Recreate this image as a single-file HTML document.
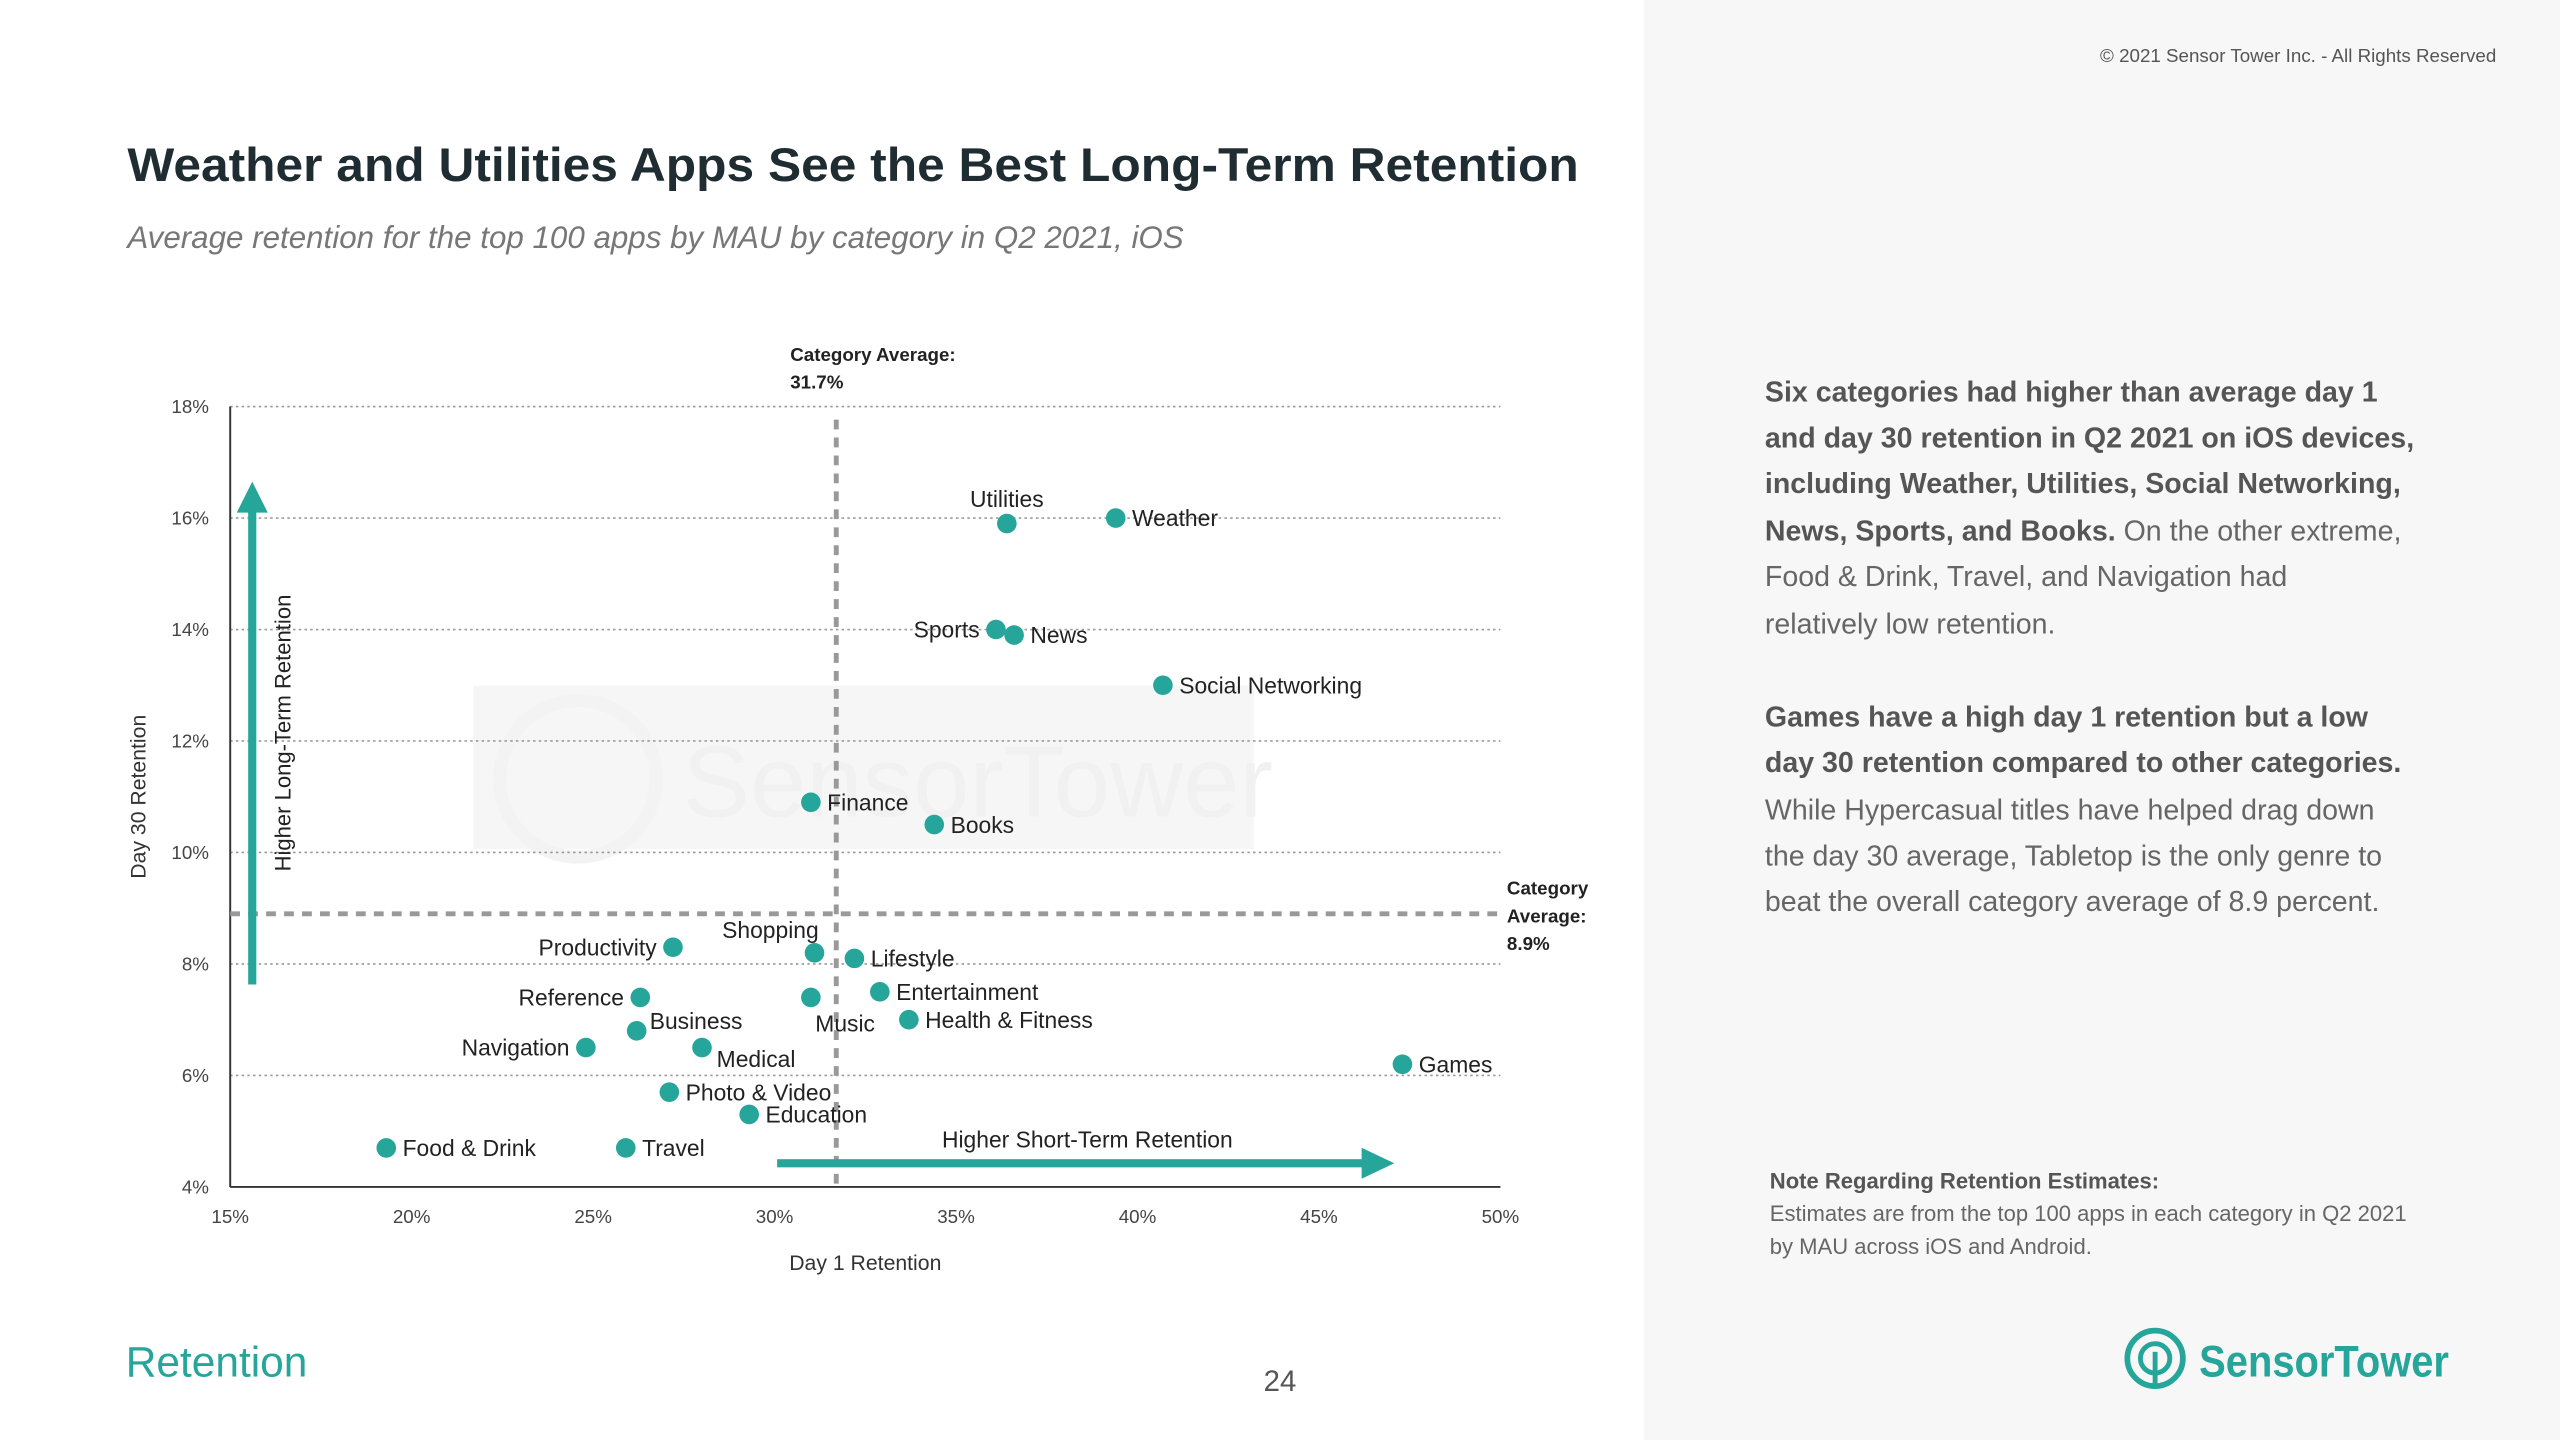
<!DOCTYPE html>
<html><head><meta charset="utf-8">
<style>
html,body{margin:0;padding:0;background:#fff;}
svg{display:block;font-family:"Liberation Sans",sans-serif;}
</style></head>
<body>
<svg id="page" width="2560" height="1440" viewBox="0 0 1568 882" xmlns="http://www.w3.org/2000/svg">
  <rect x="1007" y="0" width="561" height="882" fill="#f7f7f7"/>
  <text x="1529" y="38" text-anchor="end" font-size="11.5" fill="#555">© 2021 Sensor Tower Inc. - All Rights Reserved</text>
  <text x="78" y="111" font-size="29" font-weight="bold" fill="#1f2d33" textLength="889" lengthAdjust="spacingAndGlyphs">Weather and Utilities Apps See the Best Long-Term Retention</text>
  <text x="78" y="152" font-size="19" font-style="italic" fill="#777" textLength="647" lengthAdjust="spacingAndGlyphs">Average retention for the top 100 apps by MAU by category in Q2 2021, iOS</text>

  <g opacity="0.07">
    <rect x="290" y="420" width="478" height="100" fill="#888"/>
    <circle cx="354" cy="477" r="48" fill="none" stroke="#666" stroke-width="8"/>
    <text x="418" y="500" font-size="62" fill="#444">SensorTower</text>
  </g>

  <g id="chart"></g>

  <g font-size="17.5" fill="#666">
    <text x="1081" y="246"><tspan font-weight="bold" fill="#555">Six categories had higher than average day 1</tspan></text>
    <text x="1081" y="274"><tspan font-weight="bold" fill="#555">and day 30 retention in Q2 2021 on iOS devices,</tspan></text>
    <text x="1081" y="302"><tspan font-weight="bold" fill="#555">including Weather, Utilities, Social Networking,</tspan></text>
    <text x="1081" y="331"><tspan font-weight="bold" fill="#555">News, Sports, and Books.</tspan> On the other extreme,</text>
    <text x="1081" y="359">Food &amp; Drink, Travel, and Navigation had</text>
    <text x="1081" y="388">relatively low retention.</text>
    <text x="1081" y="445"><tspan font-weight="bold" fill="#555">Games have a high day 1 retention but a low</tspan></text>
    <text x="1081" y="473"><tspan font-weight="bold" fill="#555">day 30 retention compared to other categories.</tspan></text>
    <text x="1081" y="502">While Hypercasual titles have helped drag down</text>
    <text x="1081" y="530">the day 30 average, Tabletop is the only genre to</text>
    <text x="1081" y="558">beat the overall category average of 8.9 percent.</text>
  </g>
  <text x="1084" y="728" font-size="13.5" font-weight="bold" fill="#555">Note Regarding Retention Estimates:</text>
  <text x="1084" y="748" font-size="13.5" fill="#666">Estimates are from the top 100 apps in each category in Q2 2021</text>
  <text x="1084" y="768" font-size="13.5" fill="#666">by MAU across iOS and Android.</text>

  <text x="77" y="843" font-size="26" fill="#26a69a">Retention</text>
  <text x="784" y="852" text-anchor="middle" font-size="18" fill="#555">24</text>
  <g>
    <circle cx="1320" cy="832" r="17" fill="none" stroke="#26a69a" stroke-width="3.5"/>
    <circle cx="1320" cy="832" r="9" fill="none" stroke="#26a69a" stroke-width="3"/>
    <rect x="1318.5" y="828" width="3" height="22" fill="#26a69a"/>
    <text x="1347" y="843" font-size="27" font-weight="bold" fill="#26a69a" textLength="153" lengthAdjust="spacingAndGlyphs">SensorTower</text>
  </g>
</svg>
<script>
const categories = ["Utilities","Weather","Sports","News","Social Networking","Finance","Books","Productivity","Shopping","Lifestyle","Reference","Music","Entertainment","Health & Fitness","Business","Navigation","Medical","Games","Photo & Video","Education","Food & Drink","Travel"];
const day1Values = [36.4,39.4,36.1,36.6,40.7,31.0,34.4,27.2,31.1,32.2,26.3,31.0,32.9,33.7,26.2,24.8,28.0,47.3,27.1,29.3,19.3,25.9];
const day30Values = [15.9,16.0,14.0,13.9,13.0,10.9,10.5,8.3,8.2,8.1,7.4,7.4,7.5,7.0,6.8,6.5,6.5,6.2,5.7,5.3,4.7,4.7];
const xTicks = [15,20,25,30,35,40,45,50];
const yTicks = [4,6,8,10,12,14,16,18];
const avgDay1 = 31.7;
const avgDay30 = 8.9;
// label placement: side code per category (layout, not data)
const labelSide = ["top","right","left","right","right","right","right","left","topleft","right","left","bottom","right","right","topright","left","bottomright","right","right","right","right","right"];

const NS="http://www.w3.org/2000/svg";
const g=document.getElementById('chart');
const X0=141,X1=919,Y0=727,Y1=249;
function xs(v){return X0+(v-15)/(50-15)*(X1-X0);}
function ys(v){return Y0-(v-4)/(18-4)*(Y0-Y1);}
function el(tag,attrs,text){const e=document.createElementNS(NS,tag);for(const k in attrs)e.setAttribute(k,attrs[k]);if(text!==undefined)e.textContent=text;g.appendChild(e);return e;}

yTicks.forEach(t=>{
  if(t>4){const l=el('line',{x1:X0,x2:X1,y1:ys(t),y2:ys(t),stroke:'#999','stroke-width':1,'stroke-dasharray':'1.5 2'});
  
  }
  const tx=el('text',{x:128,y:ys(t)+4,'text-anchor':'end','font-size':11.5,fill:'#444'},t+'%');
  
  
});
xTicks.forEach(t=>{
  const tx=el('text',{x:xs(t),y:749,'text-anchor':'middle','font-size':11.5,fill:'#444'},t+'%');
  
  
});
let ax=el('line',{x1:X0,x2:X0,y1:Y1,y2:Y0,stroke:'#333','stroke-width':1.2});


ax=el('line',{x1:X0,x2:X1,y1:Y0,y2:Y0,stroke:'#333','stroke-width':1.2});



let t=el('text',{x:530,y:778,'text-anchor':'middle','font-size':13,fill:'#333'},'Day 1 Retention');


t=el('text',{x:0,y:0,'text-anchor':'middle','font-size':13,fill:'#333',transform:'translate(89,488) rotate(-90)'},'Day 30 Retention');



// average lines
let av=el('line',{x1:xs(avgDay1),x2:xs(avgDay1),y1:Y1+8,y2:Y0,stroke:'#999','stroke-width':3,'stroke-dasharray':'6 5'});


av=el('line',{x1:X0,x2:X1,y1:ys(avgDay30),y2:ys(avgDay30),stroke:'#999','stroke-width':3,'stroke-dasharray':'6 5'});


t=el('text',{x:484,y:221,'font-size':11.5,'font-weight':'bold',fill:'#222'},'Category Average:');


t=el('text',{x:484,y:238,'font-size':11.5,'font-weight':'bold',fill:'#222'},avgDay1+'%');


[['Category',548],['Average:',565],[avgDay30+'%',582]].forEach((p,i)=>{
  const tt=el('text',{x:923,y:p[1],'font-size':11.5,'font-weight':'bold',fill:'#222'},p[0]);
  
  
});

// arrows
let a=el('rect',{x:152,y:310,width:5,height:293,fill:'#26a69a'});


a=el('polygon',{points:'145,314 164,314 154.5,295',fill:'#26a69a'});


t=el('text',{x:0,y:0,'text-anchor':'middle','font-size':13.5,fill:'#222',transform:'translate(178,449) rotate(-90)'},'Higher Long-Term Retention');


a=el('rect',{x:476,y:710,width:360,height:5,fill:'#26a69a'});


a=el('polygon',{points:'834,703 834,722 854,712.5',fill:'#26a69a'});


t=el('text',{x:666,y:703,'text-anchor':'middle','font-size':14,fill:'#222'},'Higher Short-Term Retention');



categories.forEach((c,i)=>{
  const cx=xs(day1Values[i]),cy=ys(day30Values[i]);
  const slug=c.toLowerCase().replace(/[^a-z]+/g,'-');
  const p=el('circle',{cx:cx,cy:cy,r:6,fill:'#26a69a'});
  
  
  const s=labelSide[i];let lx=cx+10,ly=cy+5,anc='start';
  if(s==='left'){lx=cx-10;anc='end';}
  else if(s==='top'){lx=cx;ly=cy-10;anc='middle';}
  else if(s==='topleft'){lx=cx-27;ly=cy-9;anc='middle';}
  else if(s==='topright'){lx=cx+8;ly=cy-1;}
  else if(s==='bottom'){lx=cx+21;ly=cy+21;anc='middle';}
  else if(s==='bottomright'){lx=cx+9;ly=cy+12;}
  const l=el('text',{x:lx,y:ly,'text-anchor':anc,'font-size':14,fill:'#222'},c);
  
  
});
</script>
</body></html>
